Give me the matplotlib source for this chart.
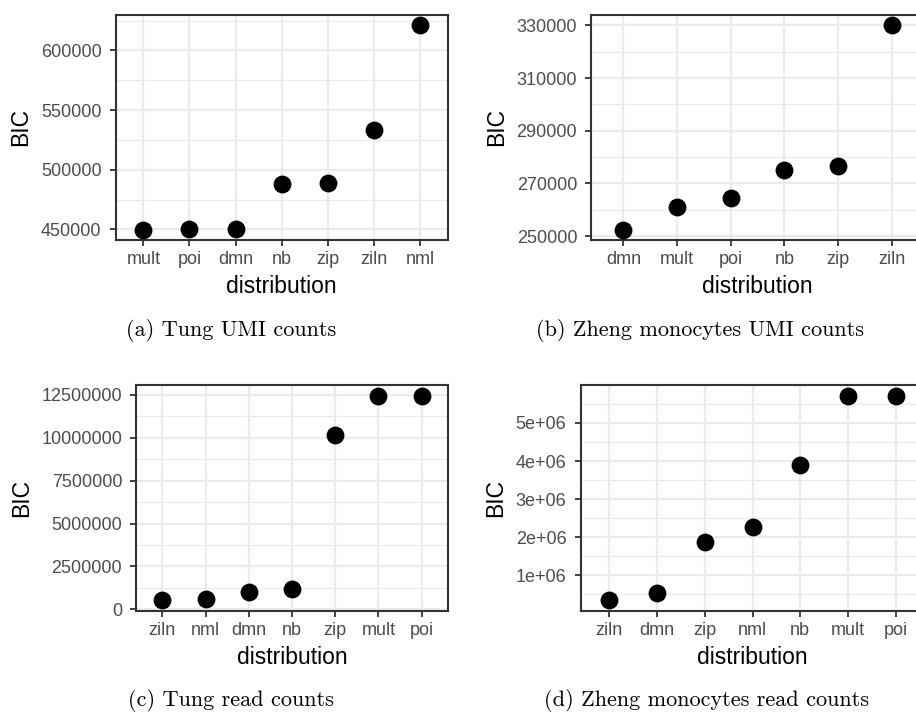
import matplotlib
matplotlib.use("Agg")
import matplotlib.pyplot as plt
from matplotlib.ticker import FixedLocator, FuncFormatter

# BIC par distribution pour chaque jeu de données
dist_a = ["mult", "poi", "dmn", "nb", "zip", "ziln", "nml"]
bic_a = [449700, 450250, 450500, 487900, 488700, 533000, 621400]

dist_b = ["dmn", "mult", "poi", "nb", "zip", "ziln"]
bic_b = [252400, 261100, 264400, 275150, 276800, 330200]

dist_c = ["ziln", "nml", "dmn", "nb", "zip", "mult", "poi"]
bic_c = [522000, 620000, 986000, 1160000, 10150000, 12450000, 12450000]

dist_d = ["ziln", "dmn", "zip", "nml", "nb", "mult", "poi"]
bic_d = [336000, 528000, 1877000, 2260000, 3887000, 5720000, 5720000]

ticks_a = [450000, 500000, 550000, 600000]
ticks_b = [250000, 270000, 290000, 310000, 330000]
ticks_c = [0, 2500000, 5000000, 7500000, 10000000, 12500000]
ticks_d = [1e6, 2e6, 3e6, 4e6, 5e6]

captions = ["(a) Tung UMI counts", "(b) Zheng monocytes UMI counts",
            "(c) Tung read counts", "(d) Zheng monocytes read counts"]

W, H = 916, 713
fig = plt.figure(figsize=(W / 100, H / 100), dpi=100)
plt.rcParams['font.family'] = ['Liberation Sans', 'DejaVu Sans']


def panneau(box, dist, bic, ticks, fmt):
    l, r, t, b = box
    ax = fig.add_axes([l / W, 1 - b / H, (r - l) / W, (b - t) / H])
    x = list(range(1, len(dist) + 1))
    ax.scatter(x, bic, s=165, color="black", zorder=3, linewidths=0)
    ax.set_xlim(0.4, len(dist) + 0.6)
    lo, hi = min(bic), max(bic)
    pad = 0.05 * (hi - lo)
    ax.set_ylim(lo - pad, hi + pad)
    ax.set_xticks(x)
    ax.set_xticklabels(dist)
    ax.yaxis.set_major_locator(FixedLocator(ticks))
    step = ticks[1] - ticks[0]
    minors = [ticks[0] - step / 2] + [v + step / 2 for v in ticks]
    ax.yaxis.set_minor_locator(FixedLocator(minors))
    ax.yaxis.set_major_formatter(FuncFormatter(fmt))
    ax.grid(True, which="major", color="#EBEBEB", linewidth=1.6, zorder=0)
    ax.grid(True, which="minor", axis="y", color="#EBEBEB", linewidth=0.8, zorder=0)
    ax.set_axisbelow(True)
    for sp in ax.spines.values():
        sp.set_color("#333333")
        sp.set_linewidth(1.5)
    ax.tick_params(which="major", length=4.2, width=1.3, color="#333333",
                   labelcolor="#4D4D4D", labelsize=13)
    ax.tick_params(axis="y", pad=6)
    ax.tick_params(axis="x", pad=4)
    ax.tick_params(which="minor", length=0)
    ax.set_xlabel("distribution", fontsize=16.5, labelpad=5)
    ax.set_ylabel("BIC", fontsize=16.5, labelpad=6)
    return ax


entier = lambda v, p: "%d" % v
sci = lambda v, p: "%de+06" % round(v / 1e6)

panneau((115.7, 447.7, 14.7, 240), dist_a, bic_a, ticks_a, entier)
panneau((591.3, 923.9, 14.7, 240), dist_b, bic_b, ticks_b, entier)
panneau((136.3, 447.7, 385.3, 610.7), dist_c, bic_c, ticks_c, entier)
panneau((580.7, 924.3, 385.3, 610.7), dist_d, bic_d, ticks_d, sci)

# légendes sous chaque graphique
pos = [(231, 336), (700, 336), (230.5, 706), (706, 706)]
for (cx, cy), txt in zip(pos, captions):
    fig.text(cx / W, 1 - cy / H, txt, family="cmr10", fontsize=16,
             ha="center", va="baseline")

fig.savefig("out.png", dpi=100)
